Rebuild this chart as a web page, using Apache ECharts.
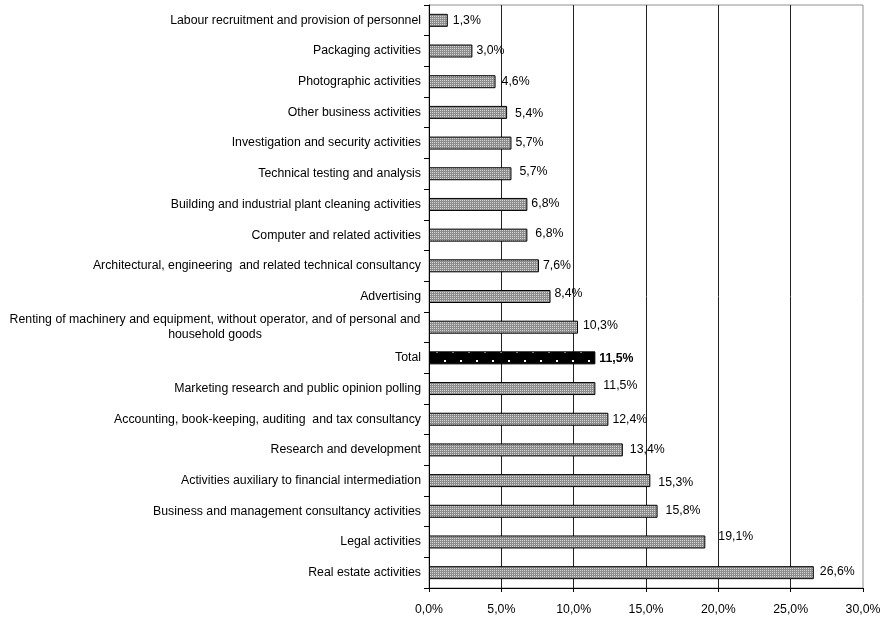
<!DOCTYPE html>
<html>
<head>
<meta charset="utf-8">
<script src="https://cdn.jsdelivr.net/npm/echarts@6/dist/echarts.min.js"></script>
<style>
  html, body { margin: 0; padding: 0; background: #fff; }
  #chart { width: 880px; height: 618px; }
</style>
</head>
<body>
<div id="chart"></div>
<script>
// Activity categories, listed top to bottom
const categories = [
  'Labour recruitment and provision of personnel',
  'Packaging activities',
  'Photographic activities',
  'Other business activities',
  'Investigation and security activities',
  'Technical testing and analysis',
  'Building and industrial plant cleaning activities',
  'Computer and related activities',
  'Architectural, engineering  and related technical consultancy',
  'Advertising',
  'Renting of machinery and equipment, without operator, and of personal and household goods',
  'Total',
  'Marketing research and public opinion polling',
  'Accounting, book-keeping, auditing  and tax consultancy',
  'Research and development',
  'Activities auxiliary to financial intermediation',
  'Business and management consultancy activities',
  'Legal activities',
  'Real estate activities'
];

// Share in percent for each category
const values = [1.3, 3.0, 4.6, 5.4, 5.7, 5.7, 6.8, 6.8, 7.6, 8.4, 10.3, 11.5, 11.5, 12.4, 13.4, 15.3, 15.8, 19.1, 26.6];

// Axis tick values (percent)
const xTicks = [0, 5, 10, 15, 20, 25, 30];

const TOTAL_NAME = 'Total';

// Small hand nudges for the value labels [dx, dy]
const labelNudge = [
  [1, 0], [0, 0], [2, 0], [4, 1], [0, 0], [4, -2], [0, -1], [4, -2], [0, 0], [0, -3],
  [1, -2], [0, 1], [4, -3], [0, 0], [3, 0], [4, 2], [4, -1], [9, -5], [2, -1]
];

const FONT = '"Liberation Sans", Arial, sans-serif';
const FS = 12.3;

function fmt(v, d) {
  return v.toFixed(d).replace('.', ',') + '%';
}

// Fine grey dotted fill
function greyPattern() {
  const c = document.createElement('canvas');
  c.width = 2; c.height = 2;
  const g = c.getContext('2d');
  g.fillStyle = '#8c8c8c'; g.fillRect(0, 0, 2, 2);
  g.fillStyle = '#d6d6d6'; g.fillRect(0, 0, 1, 1);
  return c;
}

// Black fill with sparse white dots
function dotPattern() {
  const c = document.createElement('canvas');
  c.width = 16; c.height = 16;
  const g = c.getContext('2d');
  g.fillStyle = '#000'; g.fillRect(0, 0, 16, 16);
  g.fillStyle = '#bbb';
  g.fillRect(4, 0, 2, 1);
  g.fillStyle = '#fff';
  g.fillRect(12, 8, 2, 2);
  return c;
}

const grey = { image: greyPattern(), repeat: 'repeat' };
const dots = { image: dotPattern(), repeat: 'repeat' };

const seriesData = values.map((v, i) => {
  const isTotal = categories[i] === TOTAL_NAME;
  const n = labelNudge[i] || [0, 0];
  return {
    value: v,
    itemStyle: { color: isTotal ? dots : grey },
    label: {
      offset: n,
      fontWeight: isTotal ? 'bold' : 'normal'
    }
  };
});

const chart = echarts.init(document.getElementById('chart'), null, { renderer: 'canvas' });

chart.setOption({
  animation: false,
  backgroundColor: '#fff',
  textStyle: { fontFamily: FONT },
  grid: {
    left: 429, right: 17, top: 5, bottom: 30,
    outerBoundsMode: 'none',
    containLabel: false,
    show: true, borderColor: '#909090', borderWidth: 1, backgroundColor: 'transparent'
  },
  xAxis: {
    type: 'value',
    min: xTicks[0],
    max: xTicks[xTicks.length - 1],
    interval: xTicks[1] - xTicks[0],
    axisLine: { show: true, lineStyle: { color: '#000', width: 1 } },
    axisTick: { show: true, length: 4, lineStyle: { color: '#000' } },
    axisLabel: {
      color: '#000', fontSize: FS, margin: 16, fontFamily: FONT,
      hideOverlap: false, showMinLabel: true, showMaxLabel: true,
      formatter: v => fmt(v, 1)
    },
    splitLine: {
      show: true, showMinLine: false, showMaxLine: false,
      lineStyle: { color: '#222', width: 1 }
    }
  },
  yAxis: {
    type: 'category',
    data: categories,
    inverse: true,
    axisLine: { show: true, lineStyle: { color: '#000', width: 1 } },
    axisTick: { show: true, length: 5, alignWithLabel: false, lineStyle: { color: '#000' } },
    axisLabel: {
      color: '#000', fontSize: FS, margin: 8, interval: 0, fontFamily: FONT,
      formatter: function (name) {
        const cut = ' household goods';
        if (name.endsWith(cut) && name.length > 80) {
          return '{c|' + name.slice(0, name.length - cut.length) + '}\n{c|' + cut.trim() + '}';
        }
        return name;
      },
      rich: {
        c: { width: 412, align: 'center', fontSize: FS, lineHeight: 15, color: '#000', fontFamily: FONT }
      }
    },
    splitLine: { show: false }
  },
  series: [{
    type: 'bar',
    data: seriesData,
    barWidth: 13,
    itemStyle: { borderColor: '#000', borderWidth: 1 },
    label: {
      show: true,
      position: 'right',
      distance: 4,
      color: '#000',
      fontSize: FS,
      fontFamily: FONT,
      formatter: p => fmt(p.value, 1)
    }
  }]
});
</script>
</body>
</html>
